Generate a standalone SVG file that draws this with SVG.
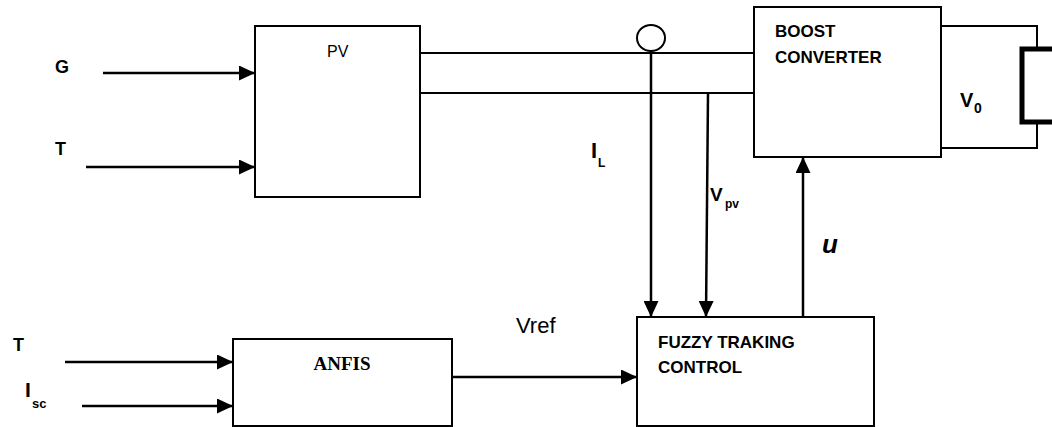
<svg xmlns="http://www.w3.org/2000/svg" width="1052" height="427" viewBox="0 0 1052 427">
<defs>
<marker id="arr" markerUnits="userSpaceOnUse" markerWidth="16" markerHeight="15" refX="16" refY="7.5" orient="auto">
<path d="M0,0 L16,7.5 L0,15 Z" fill="#000"/>
</marker>
<style>
.box{fill:#fff;stroke:#000;stroke-width:2}
.ln{fill:none;stroke:#000;stroke-width:2}
.ar{fill:none;stroke:#000;stroke-width:2.5;marker-end:url(#arr)}
.lb{font-family:"Liberation Sans",Arial,sans-serif;font-weight:bold;fill:#000}
.nm{font-family:"Liberation Sans",Arial,sans-serif;fill:#000}
</style>
</defs>
<rect width="1052" height="427" fill="#fff"/>
<g id="connectors">
<path class="ar" d="M103,73 H255"/>
<path class="ar" d="M86,167 H255"/>
<path class="ar" d="M65,362 H233"/>
<path class="ar" d="M82,406 H233"/>
<path class="ar" d="M452,377 H637"/>
<path class="ar" d="M651,51 V317"/>
<path class="ar" d="M708,93 L706,317"/>
<path class="ar" d="M803,317 V157"/>
<path class="ln" d="M420,53 H754"/>
<path class="ln" d="M420,93 H754"/>
<path class="ln" d="M940,26 H1037 V49"/>
<path class="ln" d="M1037,122 V148 H940"/>
<ellipse cx="651" cy="38" rx="14" ry="13" fill="#fff" stroke="#000" stroke-width="2"/>
</g>
<g id="load">
<path d="M1056,49 H1022 V122 H1056" fill="none" stroke="#000" stroke-width="5"/>
</g>
<g id="pv">
<rect class="box" x="255" y="26" width="165" height="171"/>
<text class="nm" x="327" y="57" font-size="16">PV</text>
</g>
<g id="boost">
<rect class="box" x="754" y="7" width="187" height="150"/>
<text class="lb" x="775" y="37" font-size="17">BOOST</text>
<text class="lb" x="775" y="63" font-size="17">CONVERTER</text>
</g>
<g id="ftc">
<rect class="box" x="637" y="317" width="237" height="109"/>
<text class="lb" x="658" y="348" font-size="17">FUZZY TRAKING</text>
<text class="lb" x="658" y="373" font-size="17">CONTROL</text>
</g>
<g id="anfis">
<rect class="box" x="233" y="339" width="219" height="87"/>
<text x="342" y="370" font-size="19" text-anchor="middle" font-family="'Liberation Serif','Times New Roman',serif" font-weight="bold">ANFIS</text>
</g>
<g id="labels">
<text class="lb" x="55" y="73" font-size="18">G</text>
<text class="lb" x="55" y="155" font-size="18">T</text>
<text class="lb" x="13" y="351" font-size="18">T</text>
<text class="lb" x="25" y="397" font-size="21">I</text>
<text class="lb" x="32" y="408" font-size="13">sc</text>
<text class="lb" x="591" y="158" font-size="22">I</text>
<text class="lb" x="598" y="167" font-size="12">L</text>
<text class="lb" x="710" y="201" font-size="19">V</text>
<text class="lb" x="725" y="208" font-size="12">pv</text>
<text class="lb" x="822" y="253" font-size="26" font-style="italic">u</text>
<text class="nm" x="516" y="333" font-size="22">Vref</text>
<text class="lb" x="960" y="107" font-size="20">V</text>
<text class="lb" x="974" y="113" font-size="14">0</text>
</g>
</svg>
